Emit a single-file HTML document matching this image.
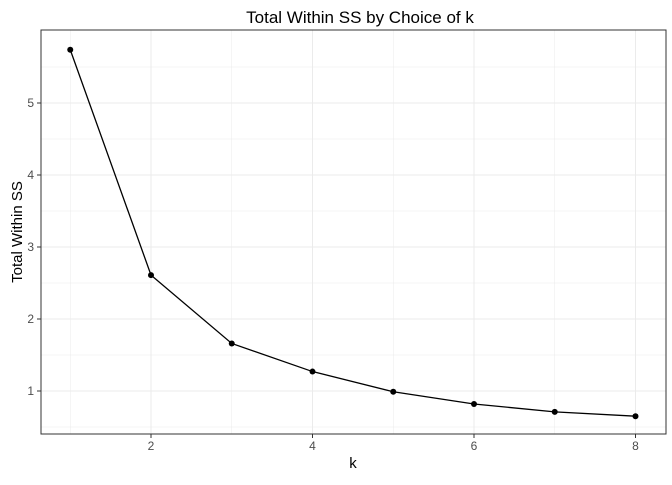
<!DOCTYPE html>
<html><head><meta charset="utf-8"><style>
body{margin:0;background:#fff;}
svg text{font-family:"Liberation Sans",sans-serif;}
</style></head><body>
<svg id="chart" width="672" height="480">
<text x="360" y="23" font-size="17" text-anchor="middle">Total Within SS by Choice of k</text>
<g id="grid"></g>
<g id="marks"></g>
<rect x="41" y="30" width="625" height="404" fill="none" stroke="#333" stroke-width="1"/>
<g id="axes"></g>
<text x="353" y="468" font-size="15" text-anchor="middle">k</text>
<text transform="translate(22,232) rotate(-90)" font-size="15" text-anchor="middle">Total Within SS</text>
</svg>
<script>
const ks=[1,2,3,4,5,6,7,8];
const wss=[5.74,2.61,1.66,1.27,0.99,0.82,0.71,0.65];
const xTicks=[2,4,6,8];
const yTicks=[1,2,3,4,5];
const NS="http://www.w3.org/2000/svg";
const xs=v=>151+(v-2)*80.75;
const ys=v=>391-(v-1)*72;
function mk(t,a,p){const e=document.createElementNS(NS,t);for(const k in a)e.setAttribute(k,a[k]);p.appendChild(e);return e;}
const grid=document.getElementById('grid'),marks=document.getElementById('marks'),axes=document.getElementById('axes');
for(let v=1;v<=8;v+=1){const l=mk('line',{x1:xs(v),x2:xs(v),y1:30,y2:434,stroke:'#ebebeb','stroke-width':xTicks.includes(v)?1:0.5},grid);

}
for(let v=0.5;v<=5.5;v+=0.5){const l=mk('line',{x1:41,x2:666,y1:ys(v),y2:ys(v),stroke:'#ebebeb','stroke-width':Number.isInteger(v)?1:0.5},grid);

}
xTicks.forEach(v=>{mk('line',{x1:xs(v),x2:xs(v),y1:434,y2:438,stroke:'#333'},axes);
const t=mk('text',{x:xs(v),y:450,'font-size':12,'text-anchor':'middle',fill:'#4d4d4d'},axes);t.textContent=v;

});
yTicks.forEach(v=>{mk('line',{x1:37,x2:41,y1:ys(v),y2:ys(v),stroke:'#333'},axes);
const t=mk('text',{x:34,y:ys(v)+4,'font-size':12,'text-anchor':'end',fill:'#4d4d4d'},axes);t.textContent=v;

});
const line=mk('polyline',{points:ks.map((k,i)=>xs(k)+','+ys(wss[i])).join(' '),fill:'none',stroke:'#000','stroke-width':1.3},marks);


ks.forEach((k,i)=>{const c=mk('circle',{cx:xs(k),cy:ys(wss[i]),r:3,fill:'#000'},marks);

});
</script>
</body></html>
